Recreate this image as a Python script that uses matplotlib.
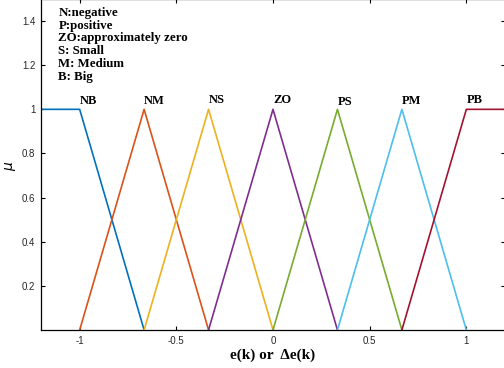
import matplotlib.pyplot as plt

# membership functions (breakpoints on the universe of discourse)
names = ["NB", "NM", "NS", "ZO", "PS", "PM", "PB"]
mf_x = [
    [-1.2, -1.0, -2/3],
    [-1.0, -2/3, -1/3],
    [-2/3, -1/3, 0.0],
    [-1/3, 0.0, 1/3],
    [0.0, 1/3, 2/3],
    [1/3, 2/3, 1.0],
    [2/3, 1.0, 1.2],
]
mf_y = [
    [1, 1, 0],
    [0, 1, 0],
    [0, 1, 0],
    [0, 1, 0],
    [0, 1, 0],
    [0, 1, 0],
    [0, 1, 1],
]
label_x = [-1.0, -2/3, -1/3, 0.0, 1/3, 2/3, 1.0]
label_y = [1.01, 1.01, 1.015, 1.015, 1.005, 1.01, 1.015]
colors = ["#0072BD", "#D95319", "#EDB120", "#7E2F8E", "#77AC30", "#4DBEEE", "#A2142F"]

notes = ["N:negative", "P:positive", "ZO:approximately zero",
         "S: Small", "M: Medium", "B: Big"]

fig = plt.figure(figsize=(5.04, 3.68), dpi=100)
ax = fig.add_axes([41/504, 38/368, 464/504, 331/368])

for xs, ys, c in zip(mf_x, mf_y, colors):
    ax.plot(xs, ys, color=c, lw=1.2)

for n, lx, ly in zip(names, label_x, label_y):
    ax.text(lx, ly, n, family="Liberation Serif", weight="bold", fontsize=9,
            ha="left", va="bottom")

for i, t in enumerate(notes):
    ax.text(-1.11, 1.437 - i * 0.0578, t, family="Liberation Serif",
            weight="bold", fontsize=9.3, ha="left", va="center")

ax.set_xlim(-1.2, 1.2)
ax.set_ylim(0, 1.5)
ax.set_xticks([-1, -0.5, 0, 0.5, 1])
ax.set_xticklabels(["-1", "-0.5", "0", "0.5", "1"])
ax.set_yticks([0.2, 0.4, 0.6, 0.8, 1.0, 1.2, 1.4])
ax.set_yticklabels(["0.2", "0.4", "0.6", "0.8", "1", "1.2", "1.4"])
ax.tick_params(direction="in", top=True, right=True, labelsize=7, length=3,
               width=0.8, pad=4)
for lab in ax.get_xticklabels() + ax.get_yticklabels():
    lab.set_family("Liberation Sans")
    lab.set_color("#262626")
for s in ax.spines.values():
    s.set_linewidth(0.9)

ax.set_xlabel("e(k) or  \u0394e(k)", family="Liberation Serif",
              weight="bold", fontsize=11, labelpad=2)
ax.set_ylabel(r"$\mu$", fontsize=10, labelpad=2)
ax.yaxis.set_label_coords(-0.05, 0.495)

fig.savefig("out.png", dpi=100)
